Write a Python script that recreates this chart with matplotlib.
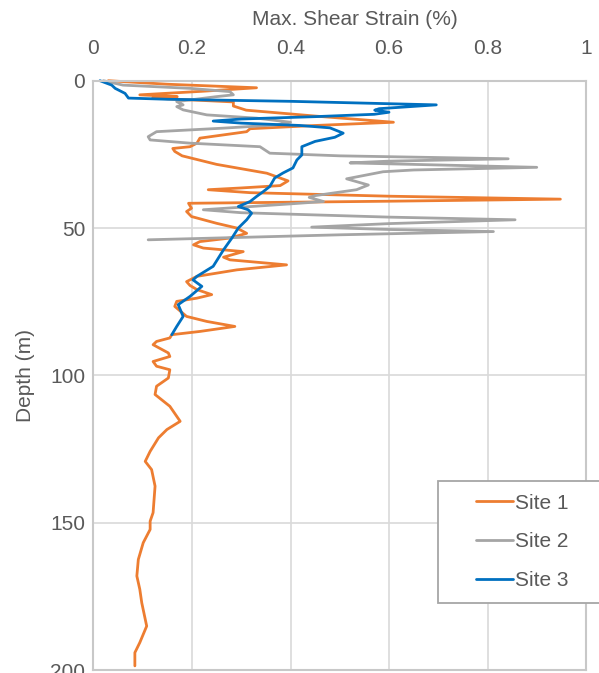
import matplotlib
matplotlib.use("Agg")
import matplotlib.pyplot as plt
from matplotlib.patches import Rectangle

# Max. shear strain (%) vs depth (m)
site1_strain = [0.03, 0.15, 0.331, 0.22, 0.094, 0.17, 0.12, 0.284, 0.284, 0.31, 0.45, 0.609, 0.45,
                0.318, 0.311, 0.216, 0.21, 0.196, 0.161, 0.165, 0.18, 0.25, 0.352, 0.395, 0.379,
                0.30, 0.233, 0.318, 0.60, 0.948, 0.60, 0.193, 0.199, 0.189, 0.199, 0.25, 0.291,
                0.311, 0.277, 0.216, 0.203, 0.223, 0.304, 0.264, 0.277, 0.392, 0.291, 0.21, 0.189,
                0.196, 0.21, 0.24, 0.21, 0.169, 0.165, 0.189, 0.23, 0.287, 0.216, 0.159, 0.155,
                0.128, 0.121, 0.152, 0.155, 0.121, 0.128, 0.155, 0.152, 0.128, 0.125, 0.155, 0.176,
                0.149, 0.132, 0.115, 0.105, 0.118, 0.125, 0.121, 0.115, 0.115, 0.101, 0.091, 0.088,
                0.094, 0.098, 0.108, 0.094, 0.084, 0.084]
site1_depth = [0, 1.2, 2.4, 3.6, 4.8, 5.4, 5.9, 7.2, 8.6, 10.0, 12.0, 14.1, 15.2,
               16.3, 17.3, 19.5, 21.2, 22.4, 23.0, 24.0, 25.5, 28.4, 31.4, 34.0, 35.6,
               36.4, 37.0, 38.0, 39.2, 40.2, 40.9, 41.6, 43.3, 44.4, 46.1, 48.4, 50.0,
               51.8, 53.4, 54.6, 55.7, 56.8, 58.0, 59.9, 60.8, 62.5, 64.2, 66.4, 68.2,
               69.5, 70.9, 72.6, 73.8, 74.9, 76.6, 80.0, 81.7, 83.4, 85.1, 86.2, 87.3,
               88.5, 89.6, 92.4, 93.6, 95.3, 96.9, 98.1, 100.9, 103.7, 106.5, 110.5, 115.6,
               118.4, 121.2, 125.8, 129.2, 132.0, 137.6, 146.6, 149.5, 152.3, 156.8, 162.5, 168.1,
               172.6, 177.2, 185.1, 190.7, 194.1, 198.6]

site2_strain = [0.02, 0.06, 0.196, 0.277, 0.284, 0.25, 0.169, 0.182, 0.169, 0.182, 0.23, 0.331,
                0.40, 0.372, 0.264, 0.128, 0.111, 0.115, 0.196, 0.338, 0.358, 0.50, 0.842, 0.60,
                0.521, 0.70, 0.90, 0.65, 0.588, 0.514, 0.558, 0.534, 0.45, 0.438, 0.467, 0.40,
                0.223, 0.30, 0.60, 0.856, 0.60, 0.443, 0.60, 0.812, 0.50, 0.111]
site2_depth = [0, 1.5, 2.6, 3.7, 4.8, 5.4, 7.1, 8.2, 8.8, 9.9, 11.6, 12.7,
               14.1, 15.0, 16.1, 17.3, 19.0, 20.1, 21.2, 22.4, 24.6, 25.5, 26.5, 27.3,
               27.9, 28.6, 29.4, 30.3, 30.9, 33.3, 35.4, 37.0, 39.0, 39.6, 41.0, 41.8,
               43.8, 44.8, 46.3, 47.2, 48.5, 49.7, 50.5, 51.2, 52.3, 54.0]

site3_strain = [0.013, 0.037, 0.044, 0.064, 0.071, 0.15, 0.40, 0.696, 0.58, 0.571, 0.60, 0.57,
                0.45, 0.30, 0.243, 0.30, 0.42, 0.48, 0.507, 0.49, 0.45, 0.423, 0.423, 0.413,
                0.405, 0.385, 0.368, 0.358, 0.345, 0.331, 0.318, 0.294, 0.314, 0.321, 0.311,
                0.294, 0.281, 0.264, 0.243, 0.21, 0.202, 0.22, 0.196, 0.172, 0.182, 0.169, 0.159]
site3_depth = [0, 1.5, 2.6, 4.3, 5.9, 6.3, 7.0, 8.2, 9.5, 10.0, 10.7, 11.4,
               12.2, 13.0, 13.7, 14.4, 15.2, 16.0, 17.8, 19.2, 20.6, 22.4, 25.2, 26.9,
               29.6, 31.3, 33.0, 35.9, 37.6, 39.3, 41.0, 42.7, 43.8, 45.0, 47.2,
               50.0, 53.4, 57.4, 63.0, 66.4, 67.6, 69.8, 73.2, 76.0, 80.0, 83.4, 86.2]

labels = ["Site 1", "Site 2", "Site 3"]
colors = ["#ED7D31", "#A5A5A5", "#0070C0"]
x_ticks = [0, 0.2, 0.4, 0.6, 0.8, 1]
x_ticklabels = ["0", "0.2", "0.4", "0.6", "0.8", "1"]
y_ticks = [0, 50, 100, 150, 200]

plt.rcParams["font.family"] = ["Liberation Sans", "DejaVu Sans"]
text_color = "#595959"

fig = plt.figure(figsize=(5.99, 6.73), dpi=100)
ax = fig.add_axes([93.5 / 599, 1 - 670 / 673, 492.5 / 599, 589.3 / 673])

series = [(site1_strain, site1_depth), (site2_strain, site2_depth), (site3_strain, site3_depth)]
for (xs, ys), lab, col in zip(series, labels, colors):
    ax.plot(xs, ys, color=col, linewidth=2.0, label=lab,
            solid_joinstyle="round", solid_capstyle="round", clip_on=False)

ax.set_xlim(0, 1)
ax.set_ylim(200, 0)
ax.set_xticks(x_ticks)
ax.set_xticklabels(x_ticklabels)
ax.set_yticks(y_ticks)
ax.xaxis.tick_top()
ax.xaxis.set_label_position("top")
ax.tick_params(axis="both", length=0, labelsize=15, labelcolor=text_color)
ax.tick_params(axis="x", pad=16)
ax.tick_params(axis="y", pad=6)
ax.set_xlabel("Max. Shear Strain (%)", fontsize=15, color=text_color)
ax.xaxis.set_label_coords(0.53, 1.0 + 56 / 589.3)
ax.set_ylabel("Depth (m)", fontsize=15, color=text_color, labelpad=11)

ax.grid(True, color="#D9D9D9", linewidth=1.2)
ax.set_axisbelow(True)
for sp in ax.spines.values():
    sp.set_color("#C8C8C8")
    sp.set_linewidth(1.5)

# legend box sticks out past the plot area on the right
fig.patches.append(Rectangle((438 / 599, 1 - 603 / 673), 170 / 599, 122 / 673,
                             transform=fig.transFigure, facecolor="white",
                             edgecolor="#A6A6A6", linewidth=1.3, zorder=5))
leg = fig.legend(loc="upper left", bbox_to_anchor=(461 / 599, 1 - 479 / 673),
                 frameon=False, fontsize=15, handlelength=1.8, handletextpad=0.1,
                 labelspacing=0.95, borderpad=0.2)
for t in leg.get_texts():
    t.set_color(text_color)
leg.set_zorder(6)

fig.savefig("out.png", dpi=100)
